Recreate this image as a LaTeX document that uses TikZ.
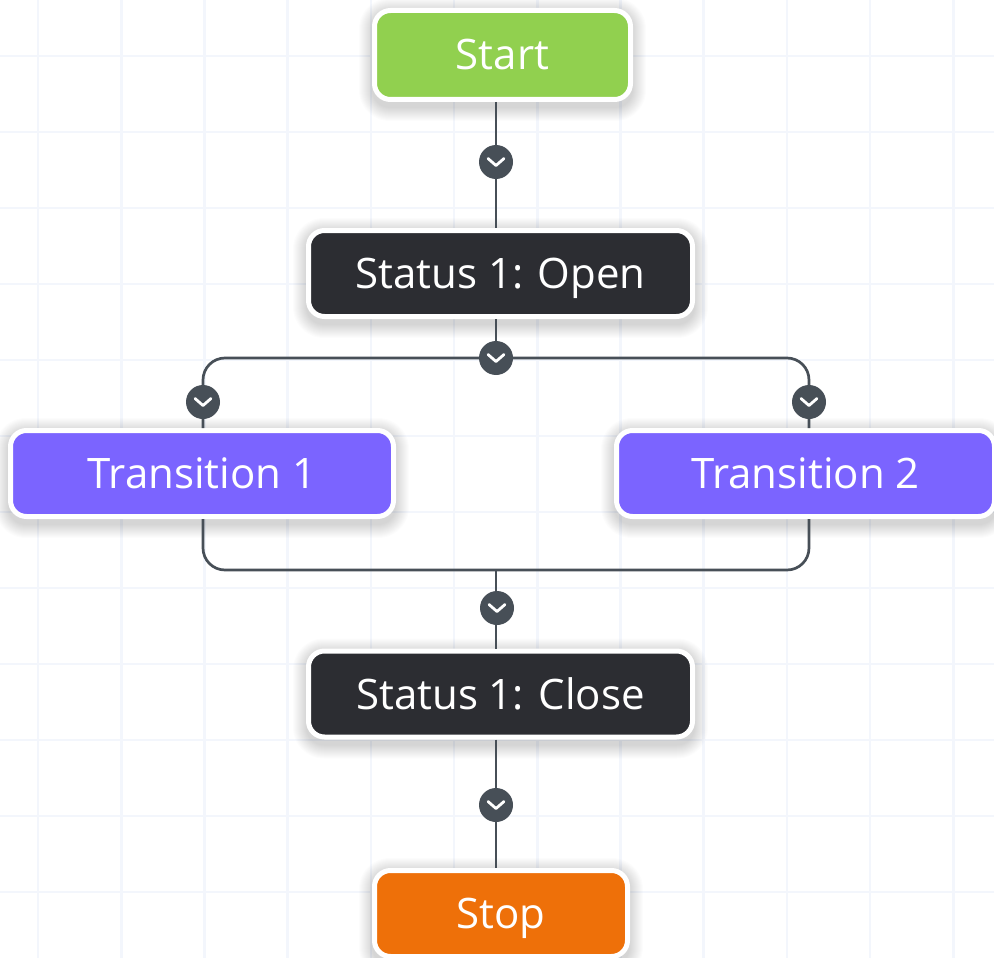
\documentclass[tikz,border=0pt]{standalone}
\usepackage{fontspec}
\setmainfont{Open Sans}

\definecolor{startgreen}{HTML}{91D04F}
\definecolor{statusdark}{HTML}{2C2D32}
\definecolor{transpurple}{HTML}{7B64FF}
\definecolor{stoporange}{HTML}{EE7009}
\definecolor{wire}{HTML}{474F57}
\definecolor{gridtint}{HTML}{F3F6FC}

\pgfdeclarelayer{gridlayer}
\pgfdeclarelayer{shadelayer}
\pgfsetlayers{gridlayer,shadelayer,main}

\tikzset{
  stepbox/.style={
    rectangle, rounded corners=16pt, draw=white, line width=5pt,
    text=white, font=\fontsize{42}{50}\selectfont,
    text height=30pt, text depth=0pt, inner sep=0pt,
    minimum height=86pt
  },
  conn/.style={draw=wire, line width=2.7pt},
  gridline/.style={draw=gridtint, line width=2.6pt},
  chev/.style={
    circle, fill=wire, minimum size=34pt, inner sep=0pt,
    path picture={
      \draw[white, line width=2.8pt, line cap=round, line join=round]
        ([xshift=-8pt,yshift=3.5pt]path picture bounding box.center)
        -- ++(8pt,-7pt) -- ++(8pt,7pt);
    }
  }
}

% soft drop shadow built from stacked translucent rounded boxes
\newcommand\softshade[1]{%
  \begin{pgfonlayer}{shadelayer}
    \foreach \k in {0,...,13}
      \fill[black, opacity=0.011, rounded corners={18pt+\k pt}]
        ([shift={(-\k pt,{-3pt+\k pt})}]#1.north west)
        rectangle ([shift={(\k pt,{-6pt-\k pt})}]#1.south east);
  \end{pgfonlayer}}

\begin{document}
\begin{tikzpicture}[x=1pt,y=-1pt]
  \useasboundingbox (0,0) rectangle (994,958);

  % background grid
  \begin{pgfonlayer}{gridlayer}
    \fill[white] (0,0) rectangle (994,958);
    \foreach \i in {0,...,11}
      \draw[gridline] ({38+83.2*\i},0) -- ({38+83.2*\i},958);
    \foreach \j in {0,...,11}
      \draw[gridline] (0,{56+76*\j}) -- (994,{56+76*\j});
  \end{pgfonlayer}

  % routing columns and rails
  \coordinate (spine) at (496,0);
  \coordinate (lcol) at (203,0);
  \coordinate (rcol) at (809,0);
  \coordinate (split) at (496,358);
  \coordinate (join) at (496,570);

  % states
  \node[stepbox, fill=startgreen, minimum width=256pt, minimum height=89pt] (start) at (502.5,55) {Start};
  \node[stepbox, fill=statusdark, minimum width=384pt] (open) at (500.5,273.5) {Status 1: Open};
  \node[stepbox, fill=transpurple, minimum width=383pt] (t1) at (202,473.5) {Transition 1};
  \node[stepbox, fill=transpurple, minimum width=378pt] (t2) at (805.5,473.5) {Transition 2};
  \node[stepbox, fill=statusdark, minimum width=384pt] (close) at (500.5,694) {Status 1: Close};
  \node[stepbox, fill=stoporange, minimum width=253pt] (stop) at (501,913.5) {Stop};

  \foreach \n in {start,open,t1,t2,close,stop} {\softshade{\n}}

  % connectors
  \draw[conn] (start.south -| spine) -- (open.north -| spine);
  \draw[conn] (open.south -| spine) -- (split);
  \draw[conn, rounded corners=22pt] (t1.north -| lcol) -- (lcol |- split) -- (rcol |- split) -- (t2.north -| rcol);
  \draw[conn, rounded corners=22pt] (t1.south -| lcol) -- (lcol |- join) -- (rcol |- join) -- (t2.south -| rcol);
  \draw[conn] (join) -- (close.north -| spine);
  \draw[conn] (close.south -| spine) -- (stop.north -| spine);

  % direction markers
  \node[chev] (m1) at (496,162) {};
  \node[chev] (m2) at (split) {};
  \node[chev] (m3) at (203,402) {};
  \node[chev] (m4) at (809,402) {};
  \node[chev] (m5) at (497,608) {};
  \node[chev] (m6) at (496,805) {};
\end{tikzpicture}
\end{document}
